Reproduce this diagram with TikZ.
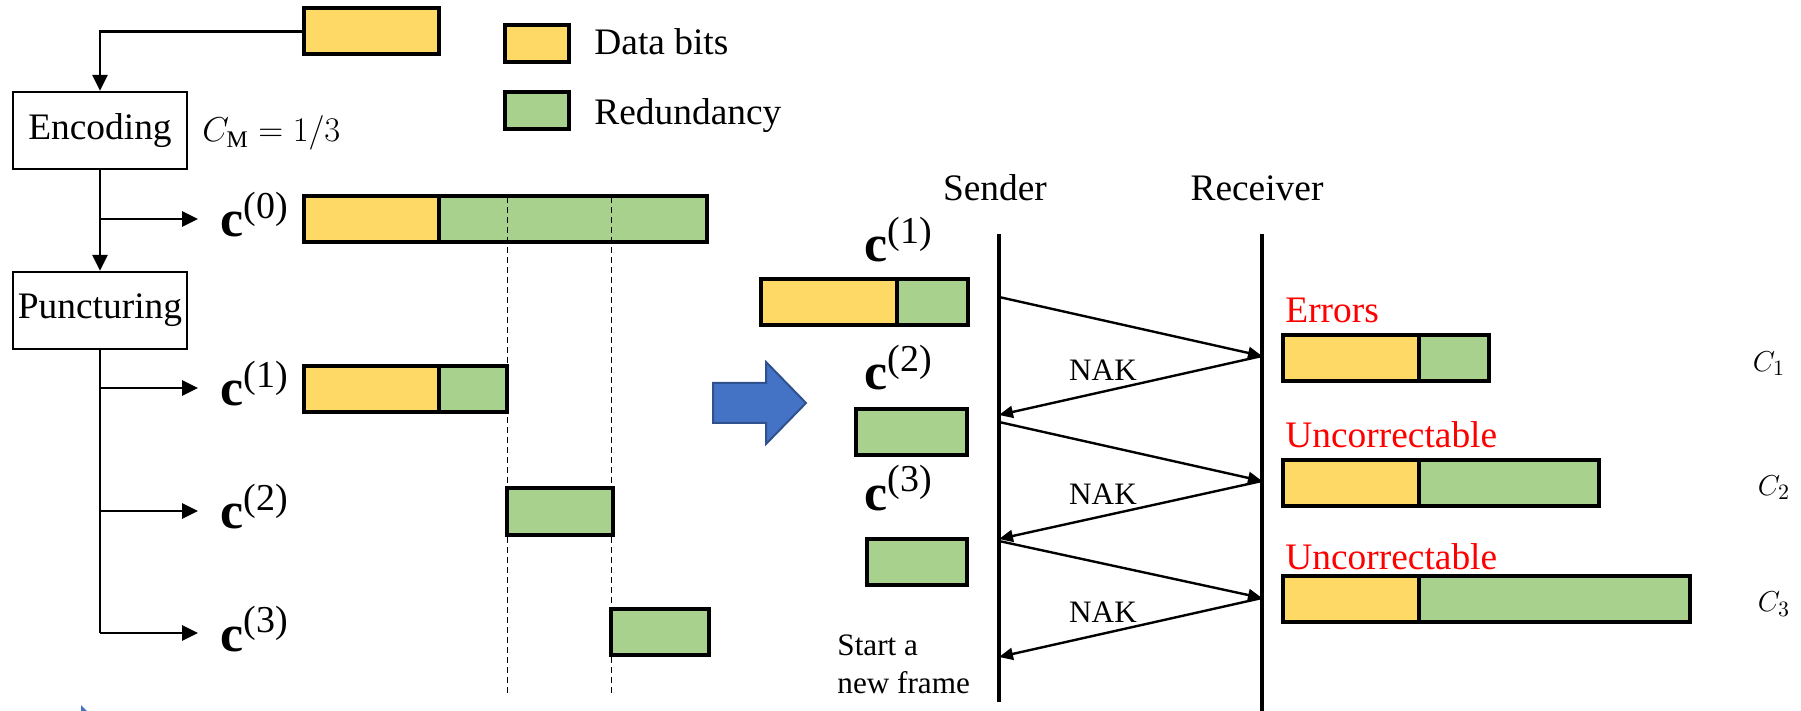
\documentclass[tikz,border=0pt]{standalone}
\usepackage{fontspec}
\setmainfont{Liberation Serif}
\definecolor{bityellow}{RGB}{255,217,102}
\definecolor{redgreen}{RGB}{169,209,142}
\definecolor{hintblue}{RGB}{68,114,196}
\definecolor{hintedge}{RGB}{47,82,143}
\usetikzlibrary{arrows.meta,positioning,calc}
\newcommand{\codeword}[1]{$\mathbf{c}^{\mbox{\fontsize{19}{19}\selectfont(#1)}}$}

\begin{document}
\begin{tikzpicture}[
  x=0.5pt, y=-0.5pt,
  every node/.style={font=\fontsize{18.7}{22}\selectfont},
  procbox/.style={draw,line width=1.2pt,minimum width=87pt,minimum height=38.5pt,inner sep=0pt},
  seg/.style={draw,line width=2pt,minimum height=23pt,inner sep=0pt,outer sep=0pt,anchor=west},
  databits/.style={seg,fill=bityellow},
  redund/.style={seg,fill=redgreen},
  flow/.style={line width=1.35pt,-{Triangle[length=8pt,width=7.5pt]}},
  msg/.style={line width=1.2pt,-{Triangle[length=7pt,width=6pt]}},
  lifeline/.style={line width=1.7pt},
  guide/.style={line width=0.5pt,dash pattern=on 3pt off 2pt},
  cvec/.style={font=\fontsize{26}{30}\selectfont,anchor=base west,inner sep=0pt},
  small/.style={font=\fontsize{15.6}{19}\selectfont,inner sep=0pt},
  status/.style={text=red,anchor=west,inner sep=0pt},
]
  \useasboundingbox (0,0) rectangle (1801,711);

  % Source block and legend
  \node[databits,minimum width=67.5pt] (src) at (304,31.5) {};
  \node[databits,anchor=center,minimum width=32pt,minimum height=18.5pt] (keyd) at (537,43.5) {};
  \node[anchor=base west,inner sep=0pt] (keydtxt) at (594,55) {Data bits};
  \node[redund,anchor=center,minimum width=32pt,minimum height=18.5pt] (keyr) at (537,110.5) {};
  \node[anchor=base west,inner sep=0pt] (keyrtxt) at (594,125) {Redundancy};

  % Encoder and puncturer
  \node[procbox] (enc) at (100,130.5) {Encoding};
  \node[small,font=\fontsize{17}{20}\selectfont,anchor=base west] (rate) at (202,142) {$C_{\mathrm{M}} = 1/3$};
  \node[procbox] (punc) at (100,310.5) {Puncturing};

  \draw[flow] (src.west) -| (enc.north);
  \draw[flow] (enc.south) -- (punc.north);
  \coordinate (b0) at (100,219);
  \node[cvec,inner xsep=11pt] (c0) at (198,237) {\codeword{0}};
  \draw[flow] (b0) -- (b0 -| c0.west);

  \foreach \k/\y in {1/388,2/511,3/633} {
    \coordinate (b\k) at (100,\y);
    \node[cvec,inner xsep=11pt] (c\k) at (198,\y+18) {\codeword{\k}};
    \draw[flow] (b\k) -- (b\k -| c\k.west);
  }
  \draw[line width=1.35pt] (punc.south) -- (b3);

  % Mother codeword and punctured parts
  \node[databits,minimum width=67.5pt] (c0d) at (304,219) {};
  \node[redund,minimum width=134pt] (c0r) at (c0d.east) {};
  \node[databits,minimum width=67.5pt] (c1d) at (304,389.5) {};
  \node[redund,minimum width=34pt] (c1r) at (c1d.east) {};
  \node[redund,minimum width=53pt] (c2r) at (507,511.5) {};
  \node[redund,minimum width=49pt] (c3r) at (611,632) {};

  \draw[guide] (507,197) -- (507,696);
  \draw[guide] (611,197) -- (611,696);

  % Big arrow
  \draw[fill=hintblue,draw=hintedge,line width=1pt]
    (713,383) -- (766,383) -- (766,362) -- (806,403) -- (766,444) -- (766,423) -- (713,423) -- cycle;
  \fill[hintblue] (81,705) -- (87,711) -- (81,711) -- cycle;

  % Sender / receiver
  \node (sender) at (995,188) {Sender};
  \node (receiver) at (1257,188) {Receiver};
  \coordinate (stop) at (999,234);
  \coordinate (sbot) at (999,702);
  \coordinate (rtop) at (1262,234);
  \coordinate (rbot) at (1262,711);
  \draw[lifeline] (stop) -- (sbot);
  \draw[lifeline] (rtop) -- (rbot);

  \foreach \i/\ys/\yr/\yb/\yl in {1/297/356/415/370, 2/422/481/539/494, 3/541/598/657/612} {
    \coordinate (tx\i) at (999,\ys);
    \coordinate (rx\i) at (1262,\yr);
    \coordinate (nak\i) at (999,\yb);
    \draw[msg] (tx\i) -- (rx\i);
    \draw[msg] (rx\i) -- (nak\i);
    \node[small] (naklbl\i) at (1103,\yl) {NAK};
  }

  % Transmitted increments
  \node[cvec] (rc1) at (864,262) {\codeword{1}};
  \node[databits,minimum width=68pt] (rc1d) at (761,302.5) {};
  \node[redund,minimum width=35.5pt] (rc1r) at (rc1d.east) {};
  \node[cvec] (rc2) at (864,390) {\codeword{2}};
  \node[redund,minimum width=55.5pt] (rc2r) at (856,432) {};
  \node[cvec] (rc3) at (864,510) {\codeword{3}};
  \node[redund,minimum width=50pt] (rc3r) at (867,562) {};
  \node[small,align=left,anchor=north west] (restart) at (837,634) {Start a\\new frame};

  % Accumulated codewords at the receiver
  \foreach \k/\txt/\yt/\y/\g/\xc in {1/Errors/310/358.5/35/1769, 2/Uncorrectable/435/483/90/1774, 3/Uncorrectable/557/599/135.5/1774} {
    \node[status] (st\k) at (1285,\yt) {\txt};
    \node[databits,minimum width=68pt] (acc\k d) at (1283,\y) {};
    \node[redund,minimum width=\g pt] (acc\k r) at (acc\k d.east) {};
    \node[small] (code\k) at (\xc,\y+5) {$C_{\k}$};
  }
\end{tikzpicture}
\end{document}
